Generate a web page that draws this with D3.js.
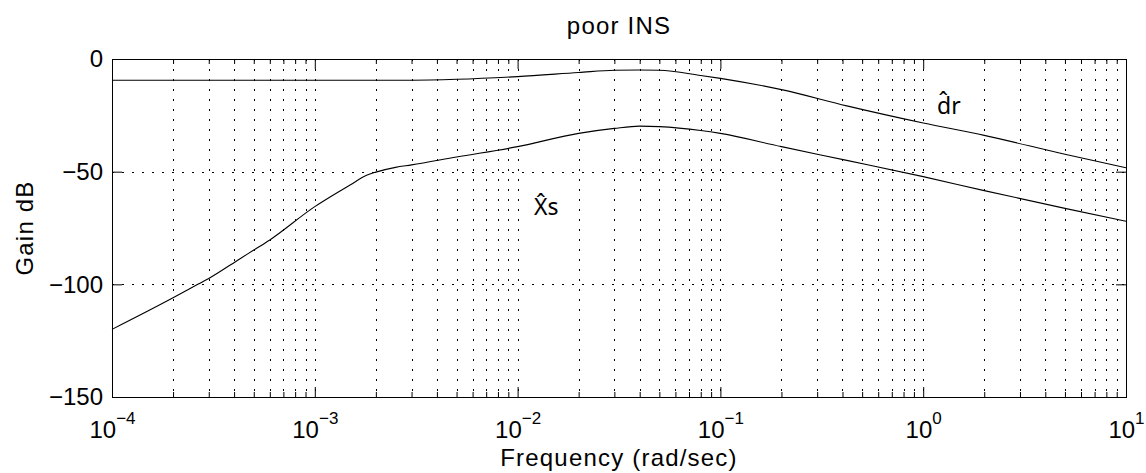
<!DOCTYPE html>
<html>
<head>
<meta charset="utf-8">
<script src="https://cdn.jsdelivr.net/npm/d3@7"></script>
<style>
  html, body { margin: 0; padding: 0; background: #fff; }
  svg { display: block; font-family: "Liberation Sans", Arial, Helvetica, sans-serif; }
  .axis text { font-size: 24px; fill: #000; }
  .axis line { stroke: #000; stroke-width: 1; }
  .grid line { stroke: #000; stroke-width: 1; stroke-dasharray: 2 8; }
  .label { font-size: 24px; fill: #000; letter-spacing: 1.2px; }
  .estimate { font-family: "Noto Sans", "DejaVu Sans", sans-serif; font-size: 23px; fill: #000; }
</style>
</head>
<body>
<svg id="chart" width="1146" height="473"></svg>
<script>
// Frequency response of the two estimators (rad/sec vs gain in dB)
const freq = [1e-4, 2e-4, 2.65e-4, 3e-4, 4.3e-4, 5e-4, 6e-4, 1e-3, 1.2e-3, 1.5e-3, 1.8e-3,
              2e-3, 2.5e-3, 3e-3, 5e-3, 1e-2, 2e-2, 3e-2, 4e-2, 5e-2, 8e-2, 0.1, 0.2,
              0.42, 1, 2, 5, 10];
const gainDr = [-9.4, -9.4, -9.4, -9.4, -9.4, -9.4, -9.4, -9.4, -9.4, -9.4, -9.4,
                -9.4, -9.4, -9.4, -9.0, -7.8, -6.0, -5.0, -4.9, -5.0, -7.3, -8.6, -13.6,
                -20.8, -28.4, -33.9, -42.3, -48.3];
const gainXs = [-120, -106, -100, -97.4, -88.5, -84.8, -80.3, -65.5, -61, -55.8, -51.6,
                -50.2, -48.1, -47, -43.5, -38.9, -33, -30.8, -29.8, -30, -31.7, -33, -38.9,
                -45, -52.2, -58.4, -66.3, -72];

const xMajor = [1e-4, 1e-3, 1e-2, 1e-1, 1, 10];
const xExponents = ["−4", "−3", "−2", "−1", "0", "1"];
const yTicks = [0, -50, -100, -150];
const yGrid = [-50, -100];

const title = "poor INS";
const xTitle = "Frequency (rad/sec)";
const yTitle = "Gain dB";
const curveLabels = ["d\u0302r", "X\u0302s"];

const svg = d3.select("#chart");
const W = 1146, H = 473;
const m = { left: 112, right: 1126, top: 59, bottom: 397 };

svg.append("rect").attr("width", W).attr("height", H).attr("fill", "#fff");

const x = d3.scaleLog().domain([1e-4, 10]).range([m.left, m.right]);
const y = d3.scaleLinear().domain([-150, 0]).range([m.bottom, m.top]);

// minor decade positions 2..9 within each decade
const xMinor = [];
for (let e = -4; e < 1; e++) for (let k = 2; k <= 9; k++) xMinor.push(k * Math.pow(10, e));

// dotted grid
const grid = svg.append("g").attr("class", "grid");
grid.selectAll("line.v")
  .data(xMinor.concat(xMajor.slice(1, -1)))
  .join("line").attr("class", "v")
  .attr("x1", d => Math.round(x(d)) + 0.5).attr("x2", d => Math.round(x(d)) + 0.5)
  .attr("y1", m.top).attr("y2", m.bottom);
grid.selectAll("line.h")
  .data(yGrid)
  .join("line").attr("class", "h")
  .attr("x1", m.left).attr("x2", m.right)
  .attr("y1", d => Math.round(y(d)) + 0.5).attr("y2", d => Math.round(y(d)) + 0.5);

// axes with inward ticks
const noLabel = () => "";
svg.append("g").attr("class", "axis").attr("transform", `translate(0,${m.bottom})`)
  .call(d3.axisBottom(x).tickValues(xMinor).tickSizeInner(-5).tickSizeOuter(0).tickFormat(noLabel))
  .call(g => g.select(".domain").remove());
svg.append("g").attr("class", "axis").attr("transform", `translate(0,${m.top})`)
  .call(d3.axisTop(x).tickValues(xMinor).tickSizeInner(-5).tickSizeOuter(0).tickFormat(noLabel))
  .call(g => g.select(".domain").remove());
svg.append("g").attr("class", "axis").attr("transform", `translate(0,${m.top})`)
  .call(d3.axisTop(x).tickValues(xMajor).tickSizeInner(-10).tickSizeOuter(0).tickFormat(noLabel))
  .call(g => g.select(".domain").remove());

const xAxis = svg.append("g").attr("class", "axis").attr("transform", `translate(0,${m.bottom})`)
  .call(d3.axisBottom(x).tickValues(xMajor).tickSizeInner(-10).tickSizeOuter(0).tickFormat(noLabel))
  .call(g => g.select(".domain").remove());
xAxis.selectAll(".tick text").remove();
xAxis.selectAll(".tick").each(function (d, i) {
  const t = d3.select(this).append("text")
    .attr("y", 41).attr("text-anchor", "middle").attr("fill", "#000");
  t.append("tspan").text("10");
  t.append("tspan").attr("dy", -14).attr("font-size", "17px").text(xExponents[i]);
});

svg.append("g").attr("class", "axis").attr("transform", `translate(${m.left},0)`)
  .call(d3.axisLeft(y).tickValues(yTicks).tickSizeInner(-10).tickSizeOuter(0).tickPadding(9))
  .call(g => g.select(".domain").remove());
svg.append("g").attr("class", "axis").attr("transform", `translate(${m.right},0)`)
  .call(d3.axisRight(y).tickValues(yTicks).tickSizeInner(-10).tickSizeOuter(0).tickFormat(noLabel))
  .call(g => g.select(".domain").remove());

// frame
svg.append("rect")
  .attr("x", m.left + 0.5).attr("y", m.top + 0.5)
  .attr("width", m.right - m.left).attr("height", m.bottom - m.top)
  .attr("fill", "none").attr("stroke", "#000").attr("stroke-width", 1);

// response curves
const line = d3.line().x(d => x(d[0])).y(d => y(d[1])).curve(d3.curveMonotoneX);
[gainDr, gainXs].forEach(series => {
  svg.append("path")
    .datum(freq.map((f, i) => [f, series[i]]))
    .attr("fill", "none").attr("stroke", "#000").attr("stroke-width", 1.1)
    .attr("d", line);
});

// curve annotations (estimates, written with a combining circumflex)
svg.append("text").attr("class", "estimate").attr("x", 937).attr("y", 114).text(curveLabels[0]);
svg.append("text").attr("class", "estimate").attr("x", 534).attr("y", 215).text(curveLabels[1]);

// titles
svg.append("text").attr("class", "label").attr("x", (m.left + m.right) / 2).attr("y", 34)
  .attr("text-anchor", "middle").text(title);
svg.append("text").attr("class", "label").attr("x", (m.left + m.right) / 2).attr("y", 466)
  .attr("text-anchor", "middle").text(xTitle);
svg.append("text").attr("class", "label")
  .attr("transform", `translate(33,${(m.top + m.bottom) / 2}) rotate(-90)`)
  .attr("text-anchor", "middle").text(yTitle);
</script>
</body>
</html>
